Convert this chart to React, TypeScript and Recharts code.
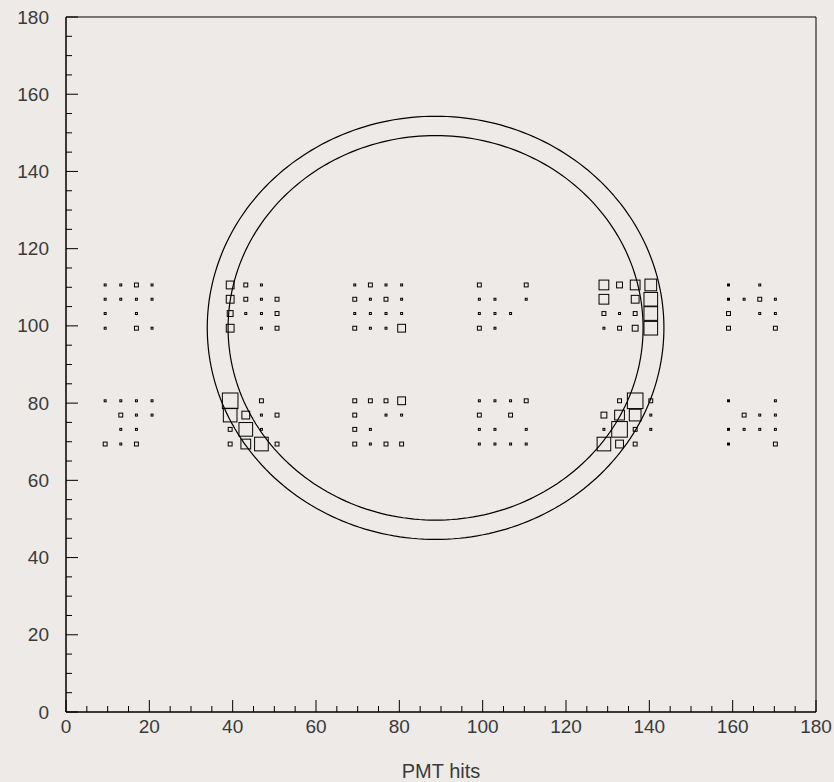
import React from 'react';
import { ScatterChart, Scatter, XAxis, YAxis, ReferenceArea } from 'recharts';

// PMT column x-positions (units) and row y-positions
const xCols = [
  9.4, 13.15, 16.9, 20.65,
  39.4, 43.15, 46.9, 50.65,
  69.3, 73.05, 76.8, 80.55,
  99.2, 102.95, 106.7, 110.45,
  129.1, 132.85, 136.6, 140.35,
  159.0, 162.75, 166.5, 170.25,
];
const yRows = [110.6, 106.9, 103.2, 99.4, 80.6, 76.9, 73.2, 69.4];

// hits per PMT: one array per row (top to bottom), 24 columns each
const hitsRow0 = [1, 1, 2, 1, 4, 2, 1, 0, 1, 2, 1, 1, 2, 0, 0, 2, 5, 3, 5, 6, 1, 0, 1, 0];
const hitsRow1 = [1, 1, 1, 1, 4, 2, 1, 2, 2, 1, 2, 1, 1, 1, 0, 1, 5, 0, 4, 7, 1, 1, 2, 1];
const hitsRow2 = [1, 0, 1, 0, 3, 1, 1, 2, 1, 1, 1, 1, 1, 1, 1, 0, 2, 1, 2, 7, 2, 0, 1, 1];
const hitsRow3 = [1, 0, 2, 1, 4, 0, 1, 2, 2, 1, 1, 4, 2, 1, 0, 0, 1, 2, 3, 7, 2, 0, 0, 2];
const hitsRow4 = [1, 1, 1, 1, 8, 0, 2, 0, 2, 2, 2, 4, 1, 1, 1, 2, 0, 2, 8, 2, 1, 0, 0, 1];
const hitsRow5 = [0, 2, 1, 1, 7, 4, 1, 2, 2, 0, 1, 1, 2, 0, 2, 0, 3, 5, 6, 1, 0, 2, 1, 1];
const hitsRow6 = [0, 1, 1, 0, 2, 7, 1, 0, 2, 1, 0, 0, 1, 1, 0, 1, 1, 8, 2, 1, 1, 1, 1, 1];
const hitsRow7 = [2, 1, 2, 0, 2, 5, 7, 2, 2, 1, 2, 2, 1, 1, 1, 1, 7, 4, 2, 0, 1, 0, 0, 2];
const hitsRows = [hitsRow0, hitsRow1, hitsRow2, hitsRow3, hitsRow4, hitsRow5, hitsRow6, hitsRow7];

// fitted rings: center and radii
const ringCenter = { x: 88.7, y: 99.5 };
const ringRadii = [54.8, 49.8];

const xTicks = Array.from({ length: 37 }, (_, i) => i * 5);
const yTicks = Array.from({ length: 37 }, (_, i) => i * 5);

const hitPoints: { x: number; y: number; hits: number }[] = [];
hitsRows.forEach((row, r) => {
  row.forEach((h, c) => {
    if (h > 0) hitPoints.push({ x: xCols[c], y: yRows[r], hits: h });
  });
});

const ringData = ringRadii.map((rad) => {
  const pts: { x: number; y: number }[] = [];
  const n = 240;
  for (let i = 0; i <= n; i++) {
    const a = (i / n) * Math.PI * 2;
    pts.push({ x: ringCenter.x + rad * Math.cos(a), y: ringCenter.y + rad * Math.sin(a) });
  }
  return pts;
});

const FONT = '"Liberation Sans", Arial, Helvetica, sans-serif';
const TEXT = '#3a3a3a';

const BoxShape = (props: any) => {
  const { cx, cy, payload } = props;
  if (cx == null || cy == null) return <g />;
  const s = payload.hits * 1.95;
  return (
    <rect x={cx - s / 2} y={cy - s / 2} width={s} height={s} fill="none" stroke="#000" strokeWidth={1} />
  );
};

const XTick = (props: any) => {
  const { x, y, payload } = props;
  const v = payload.value;
  const major = v % 20 === 0;
  return (
    <g>
      <line x1={x} y1={y} x2={x} y2={y - (major ? 12 : 6)} stroke="#000" strokeWidth={1} />
      {major && (
        <text x={x} y={y + 21} textAnchor="middle" fontSize={19} fontFamily={FONT} fill={TEXT}>
          {v}
        </text>
      )}
    </g>
  );
};

const YTick = (props: any) => {
  const { x, y, payload } = props;
  const v = payload.value;
  const major = v % 20 === 0;
  return (
    <g>
      <line x1={x} y1={y} x2={x + (major ? 12 : 6)} y2={y} stroke="#000" strokeWidth={1} />
      {major && (
        <text x={x - 17} y={y + 6.5} textAnchor="end" fontSize={19} fontFamily={FONT} fill={TEXT}>
          {v}
        </text>
      )}
    </g>
  );
};

const Nothing = () => <g />;

export default function App() {
  return (
    <div style={{ position: 'fixed', left: 0, top: 0, width: 834, height: 782, background: '#EDEAE8' }}>
      <ScatterChart width={834} height={782} margin={{ top: 17, right: 18, left: 0, bottom: 0 }}>
        <XAxis
          type="number"
          dataKey="x"
          domain={[0, 180]}
          ticks={xTicks}
          interval={0}
          tickSize={0}
          tickMargin={0}
          tick={<XTick />}
          height={70}
          axisLine={{ stroke: '#000' }}
          allowDataOverflow
          label={{ value: 'PMT hits', position: 'insideBottom', offset: 4, fontSize: 20, fontFamily: FONT, fill: TEXT }}
        />
        <YAxis
          type="number"
          dataKey="y"
          domain={[0, 180]}
          ticks={yTicks}
          interval={0}
          tickSize={0}
          tickMargin={0}
          tick={<YTick />}
          width={66}
          axisLine={{ stroke: '#000' }}
          allowDataOverflow
        />
        <ReferenceArea x1={0} x2={180} y1={0} y2={180} fill="none" stroke="#000" strokeWidth={1} fillOpacity={0} />
        {ringData.map((d, i) => (
          <Scatter
            key={i}
            data={d}
            line={{ stroke: '#000', strokeWidth: 1.2 }}
            lineType="joint"
            shape={<Nothing />}
            isAnimationActive={false}
            legendType="none"
          />
        ))}
        <Scatter data={hitPoints} shape={<BoxShape />} isAnimationActive={false} legendType="none" />
      </ScatterChart>
    </div>
  );
}
